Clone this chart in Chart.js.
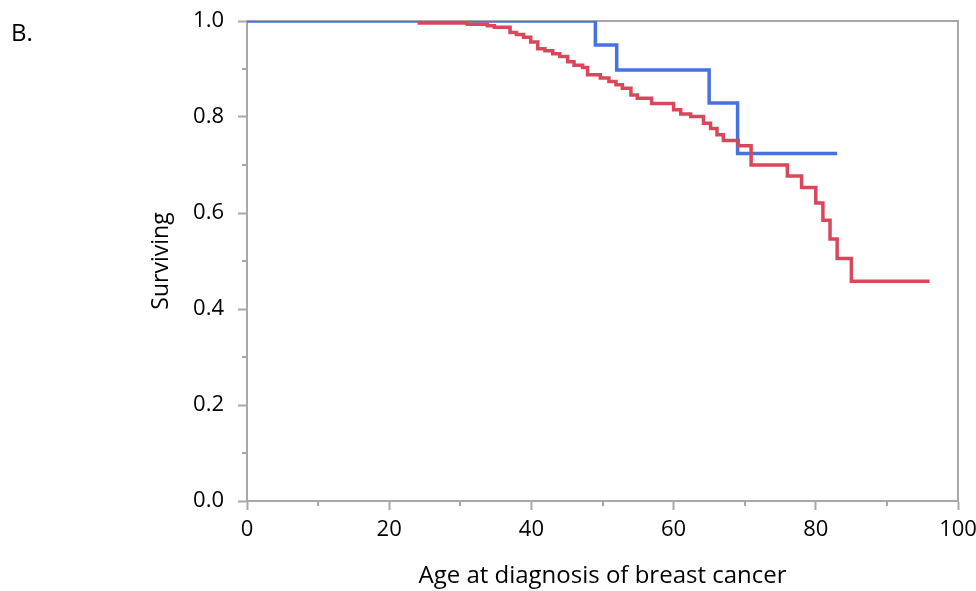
<!DOCTYPE html>
<html>
<head>
<meta charset="utf-8">
<script src="https://cdn.jsdelivr.net/npm/chart.js@4"></script>
<style>
  body { margin: 0; background: #fff; }
  #wrap { position: relative; width: 976px; height: 591px; }
  #panel { position: absolute; left: 11px; top: 15px; font: 24px "Open Sans", sans-serif; color: #000; }
</style>
</head>
<body>
<div id="wrap">
  <div id="panel">B.</div>
  <canvas id="km"></canvas>
</div>
<script>
// Kaplan-Meier estimates (age at step, survival after step)
const blueAges = [0, 49, 52, 65, 69, 83]
const blueSurv = [1.0, 0.95, 0.898, 0.829, 0.724, 0.724]

const redAges = [24, 31, 33.8, 34.8, 37.0, 37.9, 38.9, 39.9, 40.9, 41.9, 43.0, 44.0, 45.1, 46.0, 47.2, 47.9,
  49.7, 50.9, 51.9, 52.8, 54.0, 54.9, 56.9, 60.0, 61.0, 62.4, 64.2, 65.2, 66.1, 67.0, 69.1, 70.9,
  76.0, 78.0, 80.0, 81.0, 82.0, 83.0, 85.0, 96.0]
const redSurv = [0.996, 0.993, 0.990, 0.987, 0.976, 0.972, 0.966, 0.956, 0.942, 0.938, 0.932, 0.926, 0.915, 0.908, 0.903, 0.888,
  0.881, 0.874, 0.867, 0.860, 0.846, 0.839, 0.828, 0.815, 0.806, 0.801, 0.787, 0.776, 0.763, 0.751, 0.740, 0.700,
  0.677, 0.653, 0.621, 0.585, 0.546, 0.505, 0.458, 0.458]

const xTicks = [0, 20, 40, 60, 80, 100]
const yTicks = [0.0, 0.2, 0.4, 0.6, 0.8, 1.0]

const axisGray = '#a8a8a8'
const font = '"Open Sans", sans-serif'

const toPoints = (xs, ys) => xs.map((x, i) => ({ x: x, y: ys[i] }))
const isMajorX = v => xTicks.some(t => Math.abs(t - v) < 1e-6)
const isMajorY = v => yTicks.some(t => Math.abs(t - v) < 1e-6)

// box around the plot area plus the short minor ticks
const frame = {
  id: 'frame',
  beforeDatasetsDraw(chart) {
    const { ctx, chartArea: a } = chart
    ctx.save()
    ctx.strokeStyle = axisGray
    ctx.lineWidth = 2
    ctx.beginPath()
    ctx.moveTo(a.left, a.top)
    ctx.lineTo(a.right, a.top)
    ctx.lineTo(a.right, a.bottom)
    ctx.stroke()
    ctx.restore()
  },
  afterDraw(chart) {
    const { ctx, chartArea: a, scales } = chart
    ctx.save()
    ctx.strokeStyle = axisGray
    ctx.lineWidth = 2
    ctx.beginPath()
    scales.x.ticks.forEach(t => {
      if (isMajorX(t.value)) return
      const px = Math.round(scales.x.getPixelForValue(t.value))
      ctx.moveTo(px, a.bottom)
      ctx.lineTo(px, a.bottom + 5)
    })
    scales.y.ticks.forEach(t => {
      if (isMajorY(t.value)) return
      const py = Math.round(scales.y.getPixelForValue(t.value))
      ctx.moveTo(a.left, py)
      ctx.lineTo(a.left - 5, py)
    })
    ctx.stroke()
    ctx.restore()
  }
}

new Chart(document.getElementById('km'), {
  type: 'line',
  data: {
    datasets: [
      {
        data: toPoints(redAges, redSurv),
        borderColor: '#d9475b',
        borderWidth: 3.5,
        stepped: 'before',
        pointRadius: 0,
        fill: false
      },
      {
        data: toPoints(blueAges, blueSurv),
        borderColor: '#4672e0',
        borderWidth: 3.5,
        stepped: 'before',
        pointRadius: 0,
        fill: false
      }
    ]
  },
  options: {
    responsive: true,
    maintainAspectRatio: false,
    animation: false,
    layout: { padding: { left: 148, top: 21, right: 18, bottom: 0 } },
    plugins: { legend: { display: false }, tooltip: { enabled: false } },
    scales: {
      x: {
        type: 'linear',
        min: 0,
        max: 100,
        afterFit: s => {
          s.height = 90
          s.paddingLeft = 0
          s.paddingRight = 0
        },
        border: { color: axisGray, width: 2 },
        grid: {
          drawOnChartArea: false,
          tickLength: 9,
          tickWidth: 2,
          tickColor: c => isMajorX(c.tick.value) ? axisGray : 'rgba(0,0,0,0)'
        },
        ticks: {
          stepSize: 10,
          maxRotation: 0,
          autoSkip: false,
          padding: 7,
          color: '#000',
          font: { family: font, size: 22 },
          callback: v => isMajorX(v) ? String(v) : ''
        },
        title: {
          display: true,
          text: 'Age at diagnosis of breast cancer',
          color: '#000',
          padding: 0,
          font: { family: font, size: 24 }
        }
      },
      y: {
        min: 0,
        max: 1,
        afterFit: s => {
          s.width = 99
          s.paddingTop = 0
          s.paddingBottom = 0
        },
        border: { color: axisGray, width: 2 },
        grid: {
          drawOnChartArea: false,
          tickLength: 9,
          tickWidth: 2,
          tickColor: c => isMajorY(c.tick.value) ? axisGray : 'rgba(0,0,0,0)'
        },
        ticks: {
          stepSize: 0.1,
          autoSkip: false,
          padding: 14,
          color: '#000',
          font: { family: font, size: 22 },
          callback: v => isMajorY(v) ? v.toFixed(1) : ''
        },
        title: {
          display: true,
          text: 'Surviving',
          color: '#000',
          padding: 0,
          font: { family: font, size: 23 }
        }
      }
    }
  },
  plugins: [frame]
})
</script>
</body>
</html>
